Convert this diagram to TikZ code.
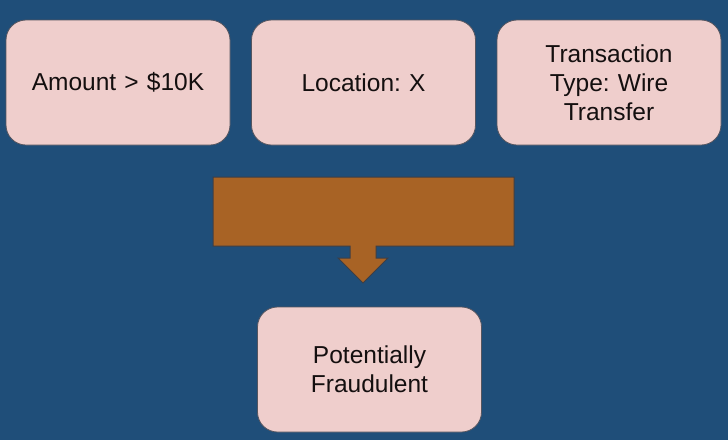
\documentclass[tikz,border=0pt]{standalone}
\usepackage{fontspec}
\setmainfont{Liberation Sans}
\frenchspacing
\definecolor{bgblue}{RGB}{31,78,121}
\definecolor{boxpink}{RGB}{239,206,204}
\definecolor{boxline}{RGB}{85,85,95}
\definecolor{arrowfill}{RGB}{168,99,37}
\definecolor{arrowline}{RGB}{60,62,70}
\definecolor{txt}{RGB}{20,15,15}
\begin{document}
\begin{tikzpicture}[x=1pt,y=-1pt,
  infobox/.style={draw=boxline, line width=0.8pt, fill=boxpink, rounded corners=20pt,
    minimum width=224pt, minimum height=125pt, inner sep=0pt, align=center,
    text width=200pt, font=\fontsize{24.5}{29}\selectfont\frenchspacing, text=txt},
  callarrow/.style={draw=arrowline, line width=1pt, fill=arrowfill}]
\fill[bgblue] (0,0) rectangle (728,440);
\useasboundingbox (0,0) rectangle (728,440);
\node[infobox] (amount) at (118,82.5) {Amount > \$10K};
\node[infobox] (location) at (363.5,82.5) {Location: X};
\node[infobox] (type) at (609,82.5) {Transaction\\Type: Wire\\Transfer};
\node[infobox] (fraud) at (369.5,369.5) {Potentially\\Fraudulent};
\draw[callarrow] (213,177) -- (514,177) -- (514,246) -- (376,246) -- (376,258)
  -- (388,258) -- (363,283) -- (338,258) -- (350,258) -- (350,246) -- (213,246) -- cycle;
\end{tikzpicture}
\end{document}
